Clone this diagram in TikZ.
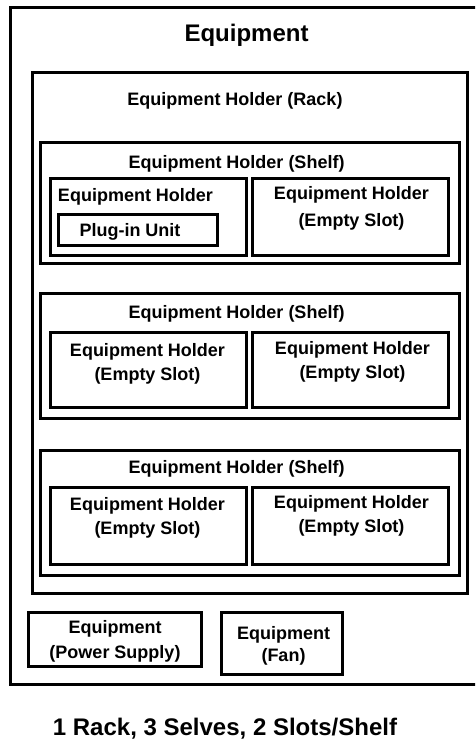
\documentclass[tikz,border=0pt]{standalone}
\usepackage{fontspec}
\setmainfont{Liberation Sans}
\begin{document}
\begin{tikzpicture}[x=1pt,y=-1pt,
  box/.style={draw, line width=3pt, rectangle, inner sep=0pt},
  lbl/.style={font=\fontsize{18}{24}\selectfont\bfseries, inner sep=0pt, align=center, yshift=-1.75pt},
  big/.style={font=\fontsize{24}{28}\selectfont\bfseries, inner sep=0pt, yshift=-2.3pt}]
\useasboundingbox (0,0) rectangle (475,740);
\clip (0,0) rectangle (475,740);
% boxes
\node[box, minimum width=474pt, minimum height=677pt] (equip) at (247,345.5) {};
\node[box, minimum width=435pt, minimum height=521pt] (rack) at (249.5,332.5) {};
\node[box, minimum width=419pt, minimum height=121pt] (shelf1) at (249.5,202.5) {};
\node[box, minimum width=419pt, minimum height=125pt] (shelf2) at (249.5,355.5) {};
\node[box, minimum width=419pt, minimum height=125pt] (shelf3) at (249.5,512.5) {};
\node[box, minimum width=196pt, minimum height=77pt] (s1a) at (148,216.5) {};
\node[box, minimum width=196pt, minimum height=77pt] (s1b) at (350,216.5) {};
\node[box, minimum width=196pt, minimum height=75pt] (s2a) at (148,369.5) {};
\node[box, minimum width=196pt, minimum height=75pt] (s2b) at (350,369.5) {};
\node[box, minimum width=196pt, minimum height=77pt] (s3a) at (148,525.5) {};
\node[box, minimum width=196pt, minimum height=77pt] (s3b) at (350,525.5) {};
\node[box, minimum width=159pt, minimum height=31pt] (plug) at (137.5,229.5) {};
\node[box, minimum width=173pt, minimum height=54pt] (power) at (114.5,639) {};
\node[box, minimum width=121pt, minimum height=62pt] (fan) at (281.5,643) {};
% labels
\node[big] (tequip) at (246.5,33) {Equipment};
\node[lbl] (track) at (235,99) {Equipment Holder (Rack)};
\node[lbl] (tshelf1) at (236.5,162) {Equipment Holder (Shelf)};
\node[lbl] (tshelf2) at (236.5,312) {Equipment Holder (Shelf)};
\node[lbl] (tshelf3) at (236.5,467) {Equipment Holder (Shelf)};
\node[lbl] (ts1a) at (135.5,195) {Equipment Holder};
\node[lbl] (tplug) at (130,230) {Plug-in Unit};
\node[lbl, font=\fontsize{18}{27}\selectfont\bfseries] (ts1b) at (351.5,206.5) {Equipment Holder\\(Empty Slot)};
\node[lbl] (ts2a) at (147.5,362) {Equipment Holder\\(Empty Slot)};
\node[lbl] (ts2b) at (352.5,360.5) {Equipment Holder\\(Empty Slot)};
\node[lbl] (ts3a) at (147.5,516.5) {Equipment Holder\\(Empty Slot)};
\node[lbl] (ts3b) at (351.5,514) {Equipment Holder\\(Empty Slot)};
\node[lbl, font=\fontsize{18}{25}\selectfont\bfseries] (tpower) at (115,639.5) {Equipment\\(Power Supply)};
\node[lbl, font=\fontsize{18}{22}\selectfont\bfseries] (tfan) at (283.5,644) {Equipment\\(Fan)};
\node[big] (caption) at (225,726) {1 Rack, 3 Selves, 2 Slots/Shelf};
\end{tikzpicture}
\end{document}
